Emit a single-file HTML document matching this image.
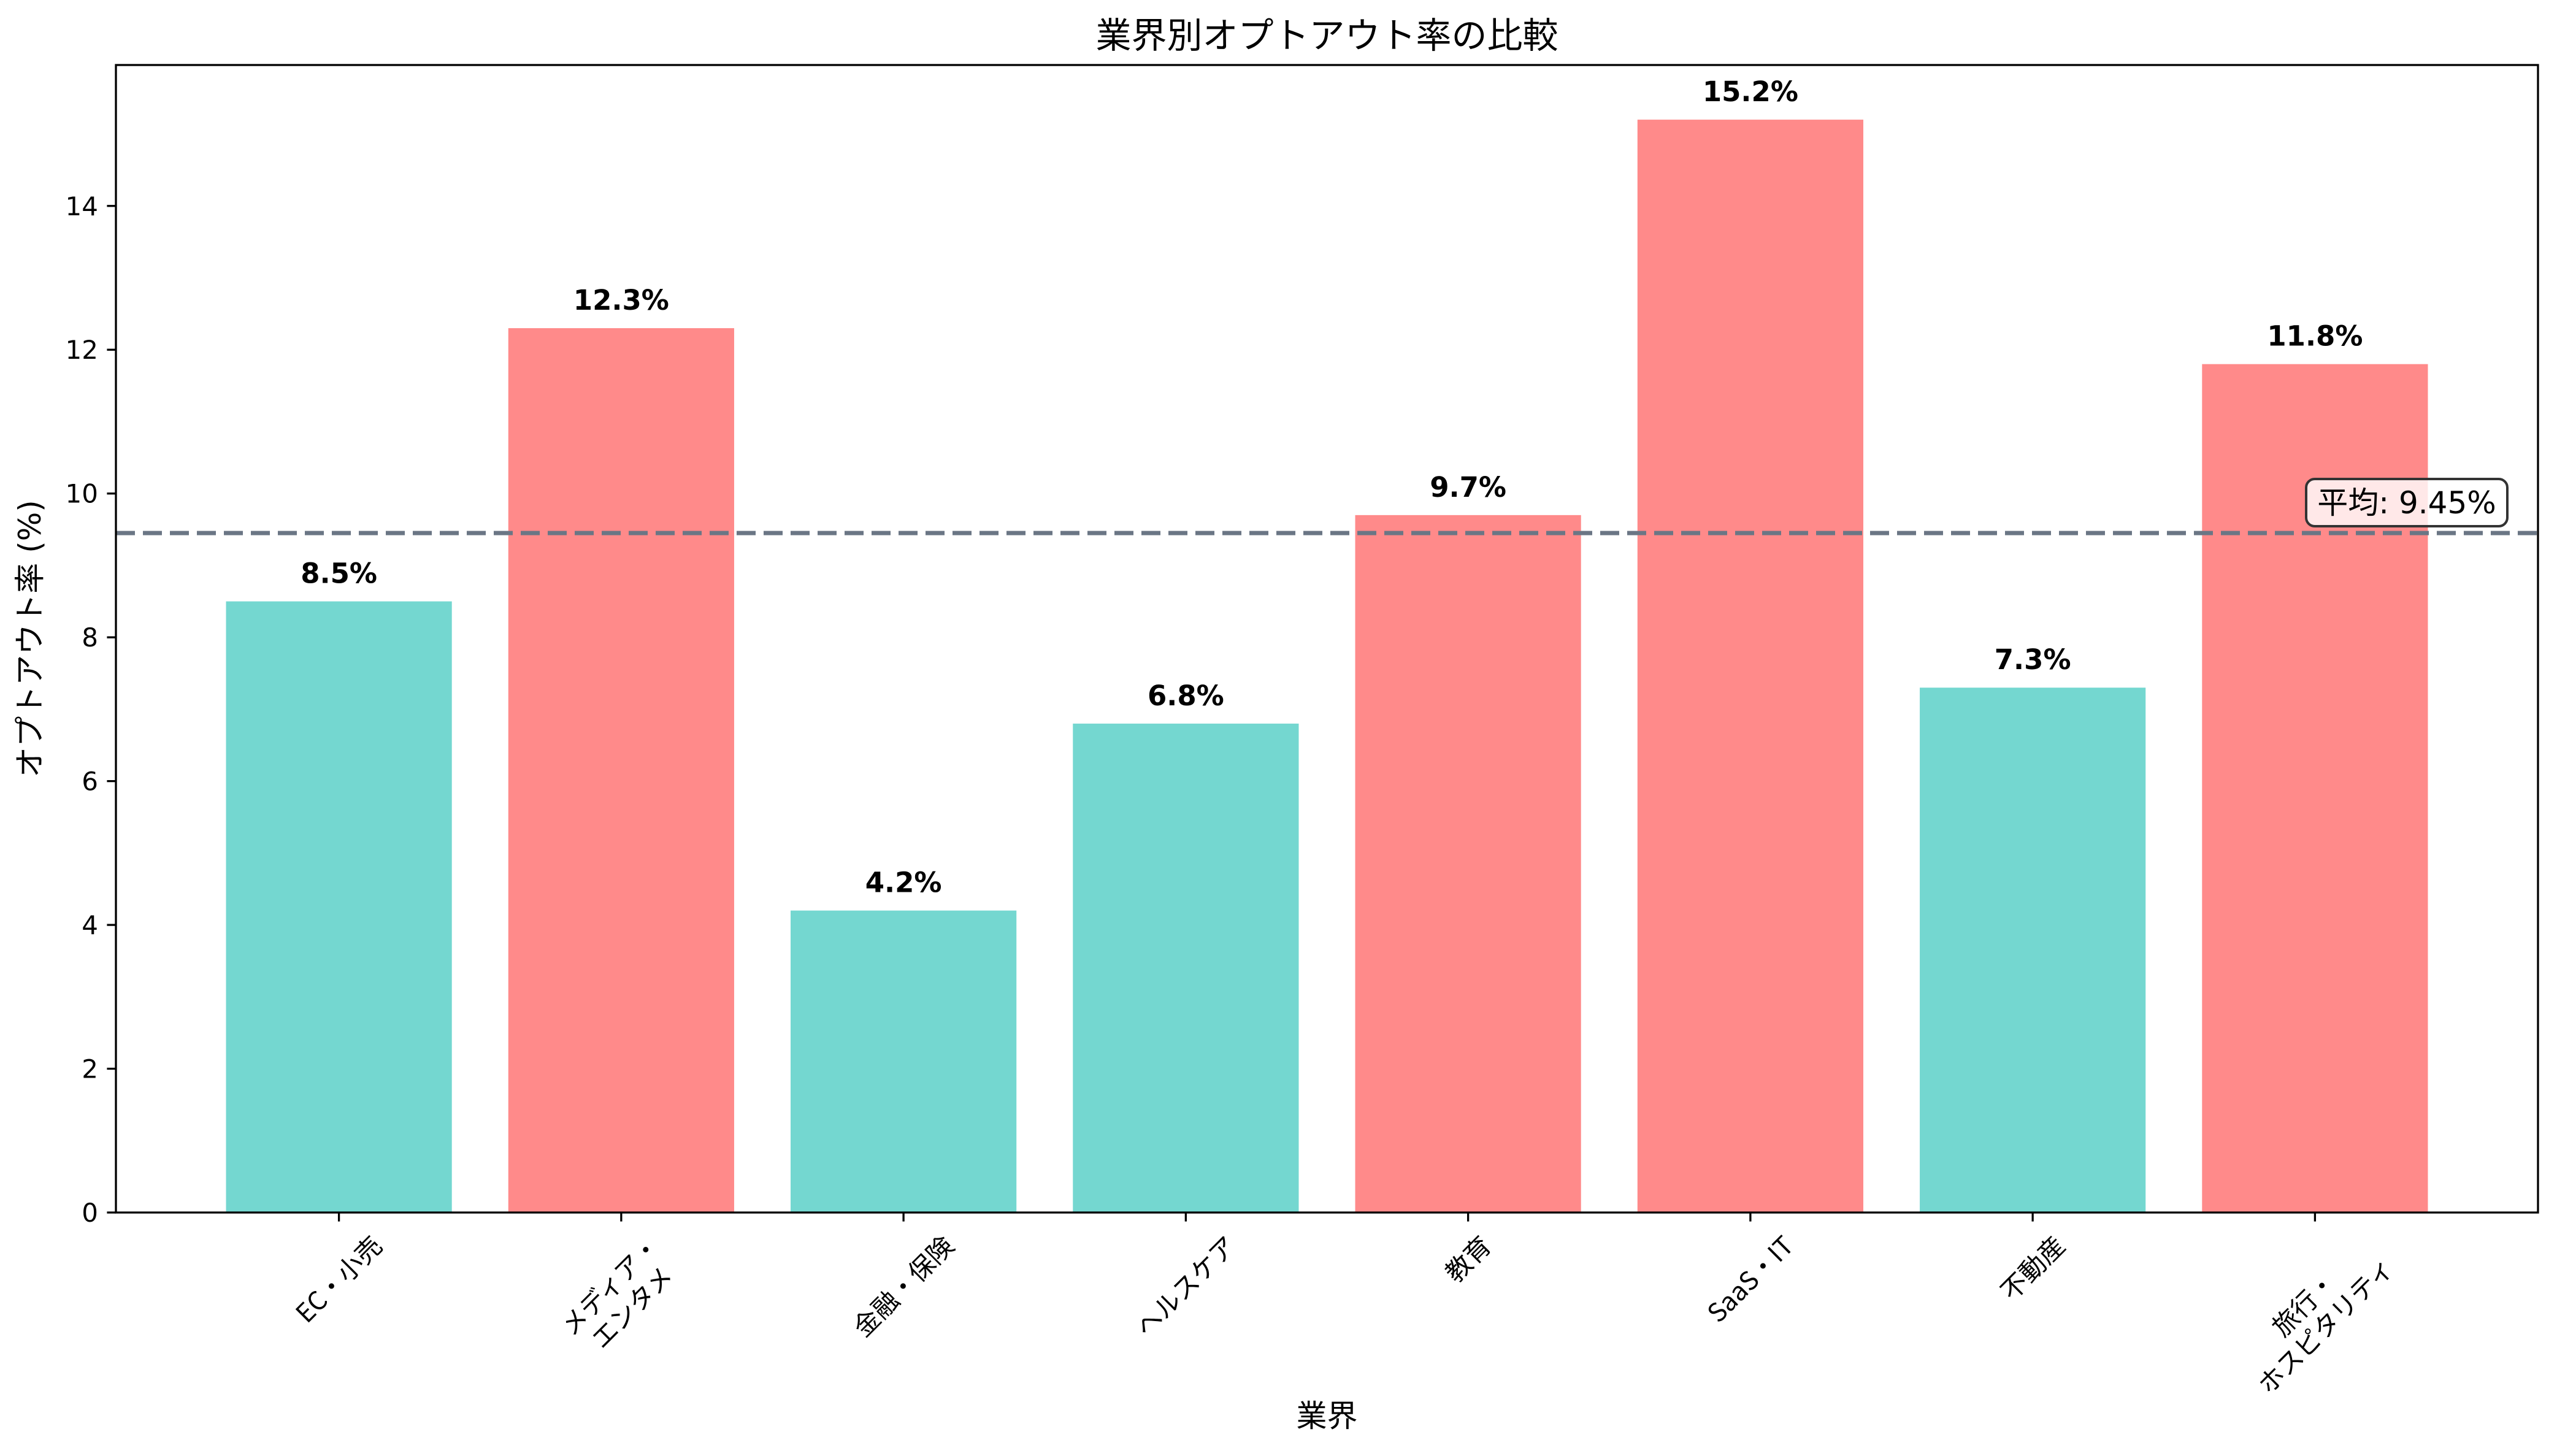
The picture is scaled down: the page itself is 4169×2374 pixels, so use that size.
<!DOCTYPE html>
<html><head><meta charset="utf-8">
<style>
html,body{margin:0;padding:0;background:#fff;}
svg{display:block;}
</style></head>
<body>
<svg id="chart" xmlns="http://www.w3.org/2000/svg" width="4169" height="2374" viewBox="0 0 4169 2374">
<rect x="0" y="0" width="4169" height="2374" fill="#ffffff"/>
<g id="plot"></g>
</svg>
<script>
const categories = [["EC・小売"],["メディア・","エンタメ"],["金融・保険"],["ヘルスケア"],["教育"],["SaaS・IT"],["不動産"],["旅行・","ホスピタリティ"]];
const values = [8.5, 12.3, 4.2, 6.8, 9.7, 15.2, 7.3, 11.8];
const valueLabels = ["8.5%","12.3%","4.2%","6.8%","9.7%","15.2%","7.3%","11.8%"];
const meanValue = [9.45];
const yTicks = [0, 2, 4, 6, 8, 10, 12, 14];
const yDomain = [0, 15.96];

const NS = "http://www.w3.org/2000/svg";
const L = 189, R = 4138, T = 106, B = 1977;
const n = values.length;
const xMin = -0.79, xMax = n - 1 + 0.79;
function xs(v){ return L + (v - xMin) / (xMax - xMin) * (R - L); }
function ys(v){ return B - (v - yDomain[0]) / (yDomain[1] - yDomain[0]) * (B - T); }
const g = document.getElementById('plot');
function mk(tag, attrs, parent){
  const e = document.createElementNS(NS, tag);
  for (const k in attrs) e.setAttribute(k, attrs[k]);
  (parent || g).appendChild(e);
  return e;
}
const JP = '"DejaVu Sans","Noto Sans CJK JP",sans-serif';
const JPL = '"Noto Sans CJK JP","DejaVu Sans",sans-serif';

// bars
const bw = 0.8;
for (let i = 0; i < n; i++) {
  const above = values[i] > meanValue[0];
  const x0 = xs(i - bw/2), x1 = xs(i + bw/2);
  const r = mk('rect', {x: x0, y: ys(values[i]), width: x1 - x0, height: ys(0) - ys(values[i]), fill: above ? '#ff8a8a' : '#74d7d0'});
  
  
  const t = mk('text', {x: xs(i), y: ys(values[i]) - 30, 'text-anchor': 'middle', 'font-family': '"DejaVu Sans",sans-serif', 'font-weight': 'bold', 'font-size': 45, fill: '#000'});
  t.textContent = valueLabels[i];
  
  
}

// mean line
const ml = mk('line', {x1: L, x2: R, y1: ys(meanValue[0]), y2: ys(meanValue[0]), stroke: '#6b7685', 'stroke-width': 7, 'stroke-dasharray': '31 13'});



// mean label box
const mbox = mk('rect', {x: 3760, y: 781, width: 328, height: 77, rx: 14, ry: 14, fill: 'rgba(255,255,255,0.8)', stroke: '#333', 'stroke-width': 4});


const mt = mk('text', {x: 3924, y: 837, 'text-anchor': 'middle', 'font-family': JP, 'font-size': 50, fill: '#000'});
mt.textContent = '平均: ' + meanValue[0].toFixed(2) + '%';



// axes frame
const frame = mk('rect', {x: L, y: T, width: R - L, height: B - T, fill: 'none', stroke: '#000', 'stroke-width': 3.3});



// y ticks
for (const v of yTicks) {
  const tk = mk('line', {x1: L - 14.6, x2: L, y1: ys(v), y2: ys(v), stroke: '#000', 'stroke-width': 3.3});
  
  
  const tl = mk('text', {x: L - 29, y: ys(v) + 15, 'text-anchor': 'end', 'font-family': '"DejaVu Sans",sans-serif', 'font-size': 42, fill: '#000'});
  tl.textContent = v;
  
  
}

// x ticks + rotated labels
const lh = 50;
for (let i = 0; i < n; i++) {
  const tk = mk('line', {x1: xs(i), x2: xs(i), y1: B, y2: B + 14.6, stroke: '#000', 'stroke-width': 3.3});
  
  
  const grp = mk('g', {});
  
  
  const lines = categories[i];
  const txt = mk('text', {x: 0, y: 0, 'text-anchor': 'middle', 'font-family': JPL, 'font-size': 42, fill: '#000'}, grp);
  lines.forEach((s, k) => {
    const sp = mk('tspan', {x: 0, y: (k - (lines.length - 1) / 2) * lh + 15}, txt);
    sp.textContent = s;
  });
  let w = 0;
  try { w = txt.getBBox().width; } catch(e) { w = 180; }
  const h = lines.length * lh;
  const d = (w + h) / Math.SQRT2 / 2;
  grp.setAttribute('transform', 'translate(' + xs(i) + ',' + (B + 14.6 + 14 + d) + ') rotate(-45)');
}

// titles
const title = mk('text', {x: (L + R) / 2, y: 78, 'text-anchor': 'middle', 'font-family': JPL, 'font-size': 58, fill: '#000'});
title.textContent = '業界別オプトアウト率の比較';


const xl = mk('text', {x: (L + R) / 2, y: 2326, 'text-anchor': 'middle', 'font-family': JPL, 'font-size': 50, fill: '#000'});
xl.textContent = '業界';


const yl = mk('text', {x: 0, y: 0, 'text-anchor': 'middle', 'font-family': JP, 'font-size': 50, fill: '#000', transform: 'translate(66,' + ((T + B) / 2) + ') rotate(-90)'});
yl.textContent = 'オプトアウト率 (%)';


</script>
</body></html>
